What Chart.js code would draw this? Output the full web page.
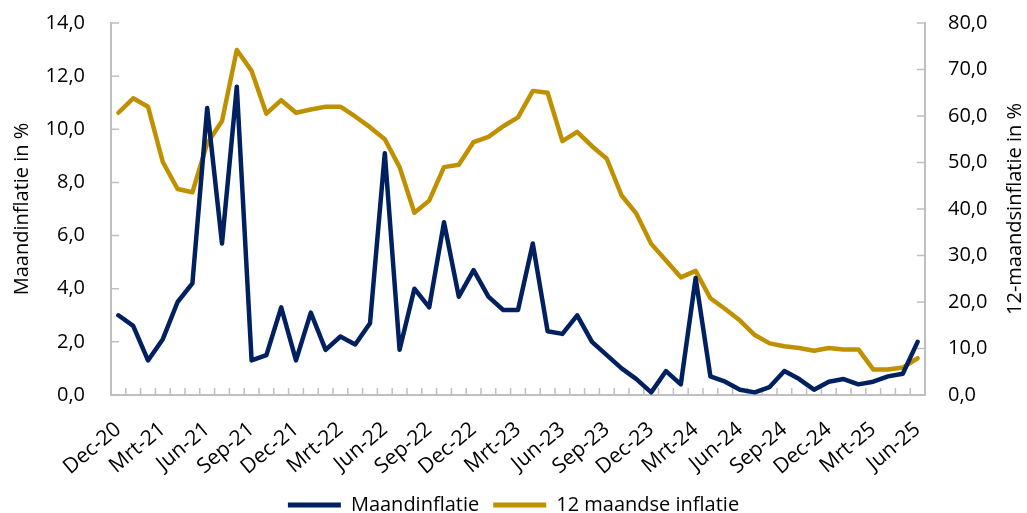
<!DOCTYPE html>
<html><head><meta charset="utf-8">
<script src="https://cdn.jsdelivr.net/npm/chart.js@4.4.1/dist/chart.umd.min.js"></script>
<style>html,body{margin:0;padding:0;background:#fff}#wrap{width:1027px;height:513px}</style>
</head><body><div id="wrap"><canvas id="c" width="1027" height="513"></canvas></div>
<script>
const months = ['Dec-20',
 'Jan-21','Feb-21','Mrt-21','Apr-21','Mei-21','Jun-21','Jul-21','Aug-21','Sep-21','Okt-21','Nov-21','Dec-21',
 'Jan-22','Feb-22','Mrt-22','Apr-22','Mei-22','Jun-22','Jul-22','Aug-22','Sep-22','Okt-22','Nov-22','Dec-22',
 'Jan-23','Feb-23','Mrt-23','Apr-23','Mei-23','Jun-23','Jul-23','Aug-23','Sep-23','Okt-23','Nov-23','Dec-23',
 'Jan-24','Feb-24','Mrt-24','Apr-24','Mei-24','Jun-24','Jul-24','Aug-24','Sep-24','Okt-24','Nov-24','Dec-24',
 'Jan-25','Feb-25','Mrt-25','Apr-25','Mei-25','Jun-25'];
const maandinflatie = [3.0,
 2.6,1.3,2.1,3.5,4.2,10.8,5.7,11.6,1.3,1.5,3.3,1.3,
 3.1,1.7,2.2,1.9,2.7,9.1,1.7,4.0,3.3,6.5,3.7,4.7,
 3.7,3.2,3.2,5.7,2.4,2.3,3.0,2.0,1.5,1.0,0.6,0.1,
 0.9,0.4,4.4,0.7,0.5,0.2,0.1,0.3,0.9,0.6,0.2,0.5,
 0.6,0.4,0.5,0.7,0.8,2.0];
const twaalfMaandsInflatie = [60.7,
 63.8,62.0,50.1,44.3,43.6,54.1,58.9,74.2,69.7,60.5,63.4,60.7,
 61.4,62.0,62.0,59.9,57.6,55.0,49.0,39.2,41.8,49.0,49.5,54.4,
 55.5,57.8,59.7,65.4,65.0,54.6,56.6,53.5,50.8,42.9,39.0,32.5,
 28.9,25.3,26.7,20.8,18.5,16.0,12.9,11.1,10.5,10.1,9.5,10.1,
 9.8,9.8,5.5,5.5,5.9,7.9];
const leftAxis = {min: 0, max: 14, step: 2};
const rightAxis = {min: 0, max: 80, step: 10};
const labelEvery = 3;

const NAVY = '#002060', GOLD = '#BF9000', AXIS = '#BFBFBF', TXT = '#000000';
const FONT = "'Open Sans', 'Noto Sans', sans-serif";
const fmt = v => Number(v).toFixed(1).replace('.', ',');

const innerTicks = {
  id: 'innerTicks',
  beforeDatasetsDraw(chart) {
    const {ctx, chartArea: a, scales} = chart;
    ctx.save();
    ctx.strokeStyle = AXIS; ctx.lineWidth = 1.5;
    ctx.beginPath();
    for (let i = 0; i <= months.length; i++) {
      const px = scales.x.getPixelForValue(i - 0.5);
      ctx.moveTo(px, a.bottom); ctx.lineTo(px, a.bottom - 7);
    }
    scales.y.ticks.forEach(t => { const py = scales.y.getPixelForValue(t.value); ctx.moveTo(a.left, py); ctx.lineTo(a.left + 8, py); });
    scales.y2.ticks.forEach(t => { const py = scales.y2.getPixelForValue(t.value); ctx.moveTo(a.right, py); ctx.lineTo(a.right - 8, py); });
    ctx.stroke();
    ctx.restore();
  },
  afterDraw(chart) {
    const {ctx, chartArea: a} = chart;
    ctx.save();
    ctx.fillStyle = TXT;
    ctx.font = "20px " + FONT;
    ctx.textAlign = 'center'; ctx.textBaseline = 'middle';
    ctx.translate(1015, (a.top + a.bottom) / 2);
    ctx.rotate(-Math.PI / 2);
    ctx.fillText('12-maandsinflatie in %', 0, 0);
    ctx.restore();
  }
};

new Chart(document.getElementById('c'), {
  type: 'line',
  data: {
    labels: months,
    datasets: [
      {label: 'Maandinflatie', data: maandinflatie, yAxisID: 'y', borderColor: NAVY, backgroundColor: NAVY,
       borderWidth: 4.5, pointRadius: 0, tension: 0, borderJoinStyle: 'round', borderCapStyle: 'round', order: 1},
      {label: '12 maandse inflatie', data: twaalfMaandsInflatie, yAxisID: 'y2', borderColor: GOLD, backgroundColor: GOLD,
       borderWidth: 4.5, pointRadius: 0, tension: 0, borderJoinStyle: 'round', borderCapStyle: 'round', order: 2}
    ]
  },
  options: {
    responsive: false, animation: false,
    layout: {padding: {top: 23, left: 0, right: 0, bottom: -12}},
    plugins: {
      tooltip: {enabled: false},
      legend: {
        position: 'bottom',
        labels: {
          color: TXT, font: {family: FONT, size: 20}, boxWidth: 53, boxHeight: 5, padding: 14,
          generateLabels(chart) {
            const items = Chart.defaults.plugins.legend.labels.generateLabels(chart);
            items.forEach(it => { it.lineWidth = 0; it.fillStyle = it.strokeStyle; });
            return items;
          }
        }
      }
    },
    scales: {
      x: {
        offset: true,
        grid: {display: false, drawTicks: false, offset: true},
        border: {display: true, color: AXIS, width: 2},
        ticks: {
          autoSkip: false, maxRotation: 40, minRotation: 40, padding: 22, color: TXT,
          font: {family: FONT, size: 21},
          callback(v, i) { return i % labelEvery === 0 ? months[i] : ''; }
        },
        afterFit(s) { s.height = 86; }
      },
      y: {
        position: 'left', min: leftAxis.min, max: leftAxis.max,
        grid: {display: false, drawTicks: true, tickLength: 26},
        border: {display: true, color: AXIS, width: 2},
        ticks: {stepSize: leftAxis.step, padding: 0, color: TXT, font: {family: FONT, size: 20}, callback: v => fmt(v)},
        title: {display: true, text: 'Maandinflatie in %', color: TXT, font: {family: FONT, size: 20}, padding: {top: 10, bottom: 0}},
        afterFit(s) { s.width = 111; }
      },
      y2: {
        position: 'right', min: rightAxis.min, max: rightAxis.max,
        grid: {display: false, drawTicks: true, tickLength: 23},
        border: {display: true, color: AXIS, width: 2},
        ticks: {stepSize: rightAxis.step, padding: 0, color: TXT, font: {family: FONT, size: 20}, callback: v => fmt(v)},
        afterFit(s) { s.width = 102; }
      }
    }
  },
  plugins: [innerTicks]
});
</script></body></html>
